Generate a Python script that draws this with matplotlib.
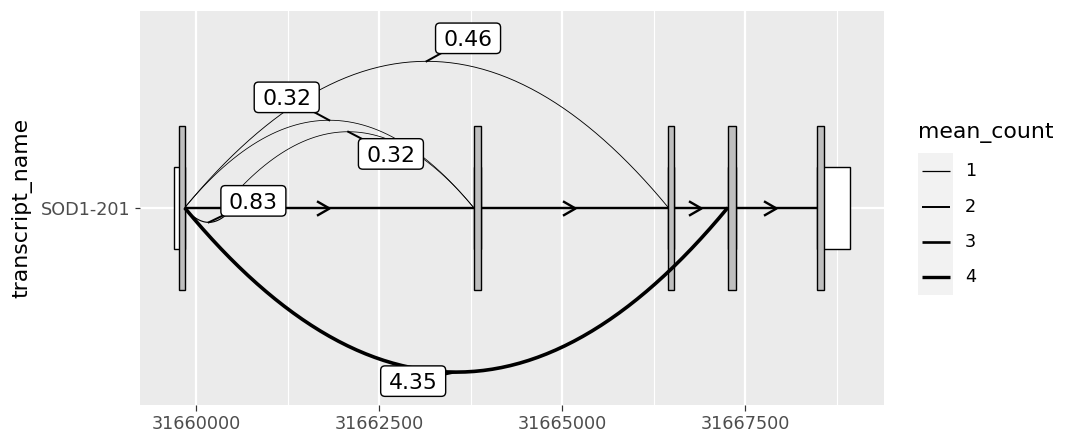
import numpy as np
import matplotlib
matplotlib.use("Agg")
import matplotlib.pyplot as plt
from matplotlib.patches import Rectangle, FancyBboxPatch
from matplotlib.lines import Line2D
from matplotlib.path import Path
from matplotlib.markers import MarkerStyle
from matplotlib.ticker import AutoMinorLocator
from matplotlib.transforms import ScaledTranslation

# ---------------- data ----------------
transcript = "SOD1-201"
exon_starts = [31659693, 31663790, 31666449, 31667258, 31668471]
exon_ends = [31659841, 31663886, 31666518, 31667375, 31668931]
cds_starts = [31659770, 31663790, 31666449, 31667258, 31668471]
cds_ends = [31659841, 31663886, 31666518, 31667375, 31668578]

junction_starts = [31659841, 31659841, 31660360, 31659841, 31659841]
junction_ends = [31663790, 31666449, 31663790, 31660500, 31667258]
mean_counts = [0.32, 0.46, 0.32, 0.83, 4.35]
junction_side = [1, 1, 1, -1, -1]
junction_labels = ["0.32", "0.46", "0.32", "0.83", "4.35"]

legend_breaks = [1, 2, 3, 4]
x_ticks = [31660000, 31662500, 31665000, 31667500]

# ---------------- styling helpers ----------------
DPI = 144
PANEL_BG = "#EBEBEB"
# label offsets (points) from arc midpoint -> label centre (repel layout)
label_offsets = [(-21.25, 11.45), (20.75, 11.5), (21.35, -11.1), (22.3, 10.75), (-21.5, -4.5)]


def lw_of(count):
    # linewidth (points) mapped from mean_count
    return (0.55 + 0.7 * count) / 2.0


fig = plt.figure(figsize=(1080 / DPI, 444 / DPI), dpi=DPI)
ax = fig.add_axes([140 / 1080, 39 / 444, 744 / 1080, 394.5 / 444])
ax.set_facecolor(PANEL_BG)
for s in ax.spines.values():
    s.set_visible(False)

xmin, xmax = min(exon_starts), max(exon_ends)
pad = 0.05 * (xmax - xmin)
ax.set_xlim(xmin - pad, xmax + pad)
ax.set_ylim(0.4, 1.6)

ax.set_xticks(x_ticks)
ax.set_xticklabels([str(t) for t in x_ticks])
ax.xaxis.set_minor_locator(AutoMinorLocator(2))
ax.set_yticks([1])
ax.set_yticklabels([transcript])
ax.grid(which="major", color="white", linewidth=1.1, zorder=0)
ax.grid(which="minor", axis="x", color="white", linewidth=0.55, zorder=0)
ax.set_axisbelow(True)
ax.tick_params(axis="both", which="major", length=2.75, width=0.6, color="#333333",
               labelcolor="#4D4D4D", labelsize=8.8, pad=2.2)
ax.tick_params(axis="x", which="minor", length=0)
ax.set_ylabel("transcript_name", fontsize=11, labelpad=4)

# introns
chev = Path([(-6.25, 3.6), (0, 0), (-6.25, -3.6)], [Path.MOVETO, Path.LINETO, Path.LINETO])
chev_marker = MarkerStyle(chev, joinstyle="miter")
for i in range(len(exon_starts) - 1):
    a, b = exon_ends[i], exon_starts[i + 1]
    ax.plot([a, b], [1, 1], color="black", lw=1.2, solid_capstyle="butt", zorder=2)
    ax.plot([(a + b) / 2], [1], marker=chev_marker, ms=12.5, mfc="none", mec="black",
            mew=1.2, zorder=2.5, linestyle="none")

# exons (white, short) then CDS (grey, tall)
for s, e in zip(exon_starts, exon_ends):
    ax.add_patch(Rectangle((s, 1 - 0.125), e - s, 0.25, fc="white", ec="black", lw=0.7, zorder=3))
for s, e in zip(cds_starts, cds_ends):
    ax.add_patch(Rectangle((s, 1 - 0.25), e - s, 0.5, fc="#BEBEBE", ec="black", lw=0.7, zorder=3))

# junction arcs
lengths = [e - s for s, e in zip(junction_starts, junction_ends)]
maxlen = max(lengths)
for s, e, c, side, lab, off in zip(junction_starts, junction_ends, mean_counts,
                                   junction_side, junction_labels, label_offsets):
    t = np.linspace(0, 1, 61)
    h = 0.5 * (e - s) / maxlen
    xs = s + (e - s) * t
    ys = 1 + side * h * 4 * t * (1 - t)
    ax.plot(xs, ys, color="black", lw=lw_of(c), solid_capstyle="butt",
            solid_joinstyle="round", zorder=4)
    mx, my = (s + e) / 2, 1 + side * h
    tr = fig.dpi_scale_trans + ScaledTranslation(mx, my, ax.transData)
    dx, dy = off[0] / 72, off[1] / 72
    bw, bh = 32.5 / 72, 15.25 / 72
    # segment from box edge to arc midpoint
    tt = min((bw / 2) / abs(dx) if dx else 9, (bh / 2) / abs(dy) if dy else 9)
    ex, ey = dx * (1 - tt), dy * (1 - tt)
    ax.add_line(Line2D([0, ex], [0, ey], transform=tr, color="black", lw=1.0, zorder=5))
    ax.add_patch(FancyBboxPatch((dx - bw / 2, dy - bh / 2), bw, bh,
                                boxstyle="round,pad=0,rounding_size=%f" % (2.2 / 72),
                                transform=tr, fc="white", ec="black", lw=0.7, zorder=6))
    ax.text(dx, dy - 4.0 / 72, lab, transform=tr, ha="center", va="baseline",
            fontsize=11, color="black", zorder=7)

# legend
def fx(px):
    return px / 1080


def fy(py):
    return 1 - py / 444


fig.text(fx(918.3), fy(133), "mean_count", fontsize=11, ha="left", va="center")
fig.add_artist(Rectangle((fx(918.3), fy(295)), fx(953.3) - fx(918.3), fy(153.3) - fy(295),
                         transform=fig.transFigure, fc="#F2F2F2", ec="none"))
key_y = [171, 206.5, 242, 277.3]
for b, ky in zip(legend_breaks, key_y):
    fig.add_artist(Line2D([fx(921.7), fx(950)], [fy(ky), fy(ky)], transform=fig.transFigure,
                          color="black", lw=lw_of(b), solid_capstyle="butt"))
    fig.text(fx(965), fy(ky), str(b), fontsize=8.8, ha="left", va="center", color="black")

fig.savefig("out.png", dpi=DPI)
